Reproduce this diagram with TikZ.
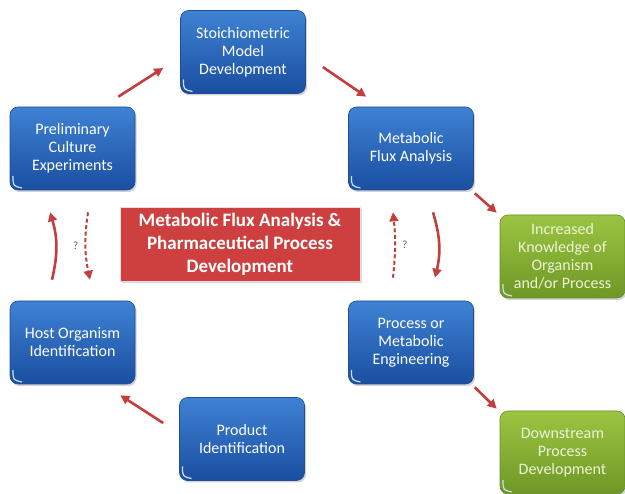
\documentclass[tikz,border=0pt]{standalone}
\usepackage{fontspec}
\setmainfont{Carlito}
\usetikzlibrary{arrows.meta,shadows,calc}

\definecolor{boxtop}{RGB}{62,130,212}
\definecolor{boxbot}{RGB}{26,78,160}
\definecolor{boxline}{RGB}{32,78,150}
\definecolor{leaftop}{RGB}{156,196,66}
\definecolor{leafbot}{RGB}{110,152,38}
\definecolor{leafline}{RGB}{104,144,40}
\definecolor{leaftext}{RGB}{236,243,214}
\definecolor{hubred}{RGB}{206,64,64}
\definecolor{arrowred}{RGB}{196,62,62}

\tikzset{
  gloss/.style={path picture={
      \draw[white!75!boxtop, line width=1.2pt]
        ([shift={(3,-14)}]path picture bounding box.south west)
        .. controls ([shift={(3,-4)}]path picture bounding box.south west)
        .. ([shift={(12,-2)}]path picture bounding box.south west);}},
  stage/.style={draw=boxline, line width=0.6pt, rounded corners=8pt,
    top color=boxtop, bottom color=boxbot, text=white,
    minimum width=125pt, minimum height=83pt, align=center,
    font=\fontsize{16}{18}\selectfont,
    drop shadow={opacity=0.35, shadow xshift=1.5pt, shadow yshift=-2pt}, gloss},
  outcome/.style={stage, draw=leafline, top color=leaftop, bottom color=leafbot,
    text=leaftext},
  hub/.style={draw=white!80!hubred, line width=0.8pt, fill=hubred, text=white,
    minimum width=240pt, minimum height=74pt, align=center,
    font=\bfseries\fontsize{19}{23}\selectfont,
    drop shadow={opacity=0.3, shadow xshift=1.5pt, shadow yshift=-2pt}},
  flow/.style={arrowred, line width=2.6pt, -{Triangle[length=9pt,width=9pt]}},
  maybe/.style={flow, line width=2pt, dash pattern=on 4pt off 2.5pt},
  query/.style={text=black!65, font=\fontsize{11}{11}\selectfont}
}

\begin{document}
\begin{tikzpicture}[x=1pt, y=-1pt]
    \useasboundingbox (0,0) rectangle (625,494);

    % Cycle of stages
    \node[stage] (stoich) at (243, 52) {Stoichiometric\\Model\\Development};
    \node[stage] (prelim) at (72.5, 148.5) {Preliminary\\Culture\\Experiments};
    \node[stage] (mfa) at (411, 148.5) {Metabolic\\Flux Analysis};
    \node[stage] (host) at (72.5, 342.5) {Host Organism\\Identification};
    \node[stage] (proc) at (411, 342.5) {Process or\\Metabolic\\Engineering};
    \node[stage] (prod) at (242, 439) {Product\\Identification};

    % Centre title
    \node[hub] (hub) at (240, 244) {Metabolic Flux Analysis \&\\Pharmaceutical Process\\Development};

    % Outcomes
    \node[outcome] (know) at (562.5, 256.5) {Increased\\Knowledge of\\Organism\\and/or Process};
    \node[outcome] (down) at (562.5, 452.5) {Downstream\\Process\\Development};

    % Cycle arrows
    \draw[flow] ([shift={(-17,-10)}]prelim.north east) -- ([shift={(-17,16)}]stoich.west);
    \draw[flow] ([shift={(17,15)}]stoich.east) -- ([shift={(18,-10)}]mfa.north west);
    \draw[flow] ([shift={(-16,-16)}]prod.west) -- ([shift={(-15,11)}]host.south east);

    % Up and down between rows
    \draw[flow] ([shift={(-20.5,-21)}]host.north) to[bend right=15] ([shift={(-22.5,22)}]prelim.south);
    \draw[maybe] ([shift={(15.5,22)}]prelim.south) to[bend right=10]
        node[query, left=3pt] {?} ([shift={(17.5,-21)}]host.north);
    \draw[maybe] ([shift={(-18,-23)}]proc.north) to[bend right=6]
        node[query, right=3pt] {?} ([shift={(-18,22)}]mfa.south);
    \draw[flow] ([shift={(22,22)}]mfa.south) to[bend left=15] ([shift={(24,-23)}]proc.north);

    % Towards the outcomes
    \draw[flow] ([shift={(1,3)}]mfa.south east) -- ([shift={(-3,-2)}]know.north west);
    \draw[flow] ([shift={(1,3)}]proc.south east) -- ([shift={(-3,-2)}]down.north west);
\end{tikzpicture}
\end{document}
